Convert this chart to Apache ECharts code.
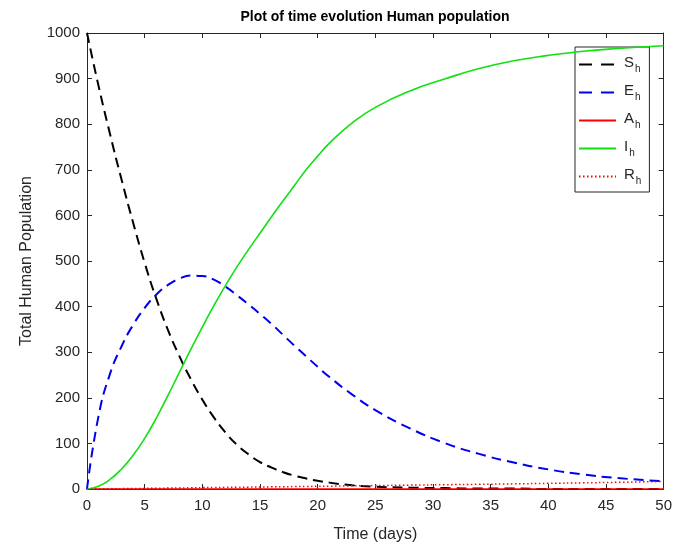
<!DOCTYPE html>
<html>
<head>
<meta charset="utf-8">
<script src="https://cdn.jsdelivr.net/npm/echarts@6/dist/echarts.min.js"></script>
<style>
  html, body { margin: 0; padding: 0; background: #fff; }
  #chart { width: 675px; height: 552px; }
</style>
</head>
<body>
<div id="chart"></div>
<script>
// time samples (days)
const days = [0, 1, 2, 3, 4, 5, 6, 7, 8, 9, 10, 11, 12, 13, 14, 15, 16, 17, 18, 19, 20, 21, 23, 25, 28, 31, 34, 37, 40, 43, 46, 50]

// compartments
const susceptible = [1000, 884, 778, 678, 584, 496, 418, 350, 292, 241, 196, 157, 124, 97, 76, 59, 47, 37, 29, 23, 18, 14, 8, 5, 3, 2, 1, 1, 0, 0, 0, 0]
const exposed = [0, 160, 253, 313, 360, 397, 426, 447, 461, 468, 467, 459, 444, 425, 405, 384, 362, 338, 314, 291, 268, 246, 207, 173, 133, 101, 77, 58, 43, 32, 24, 17]
const asymptomatic = [0, 0, 0, 0, 0, 0, 0, 0, 0, 0, 0, 0, 0, 0, 0, 0, 0, 0, 0, 0, 0, 0, 0, 0, 0, 0, 0, 0, 0, 0, 0, 0]
const infected = [0, 6, 21, 44, 74, 111, 155, 204, 255, 306, 355, 402, 446, 487, 525, 561, 597, 632, 666, 700, 730, 758, 803, 837, 873, 899, 922, 939, 951, 960, 966, 972]
const recovered = [0, 0.2, 0.5, 0.8, 1, 1.3, 1.7, 2, 2.3, 2.6, 3, 3.3, 3.6, 3.9, 4.1, 4.4, 4.7, 5, 5.3, 5.6, 5.9, 6.2, 6.9, 7.5, 8.5, 9.4, 10.3, 11.3, 12.4, 13.5, 14.7, 16.5]

const xTicks = { min: 0, max: 50, interval: 5 }
const yTicks = { min: 0, max: 1000, interval: 100 }

const axisColor = '#262626'
const font = 'Liberation Sans, Arial, sans-serif'

const pairs = (vals) => days.map((d, i) => [d, vals[i]])

const chart = echarts.init(document.getElementById('chart'), null, { renderer: 'canvas' })

const baseAxis = {
  type: 'value',
  axisLine: { show: true, onZero: false, lineStyle: { color: axisColor, width: 1 } },
  axisTick: { show: true, inside: true, length: 5, lineStyle: { color: axisColor } },
  splitLine: { show: false }
}

const mkLine = (name, vals, color, type, width, z) => ({
  name,
  type: 'line',
  data: pairs(vals),
  smooth: true,
  symbol: 'none',
  z,
  lineStyle: { color, type, width },
  itemStyle: { color }
})

// legend label with subscript h
const sub = (main) => '{m|' + main + '}{s|h}'

chart.setOption({
  animation: false,
  backgroundColor: '#fff',
  title: {
    text: 'Plot of time evolution Human population',
    left: 370,
    top: 5,
    textAlign: 'center',
    textStyle: { fontFamily: font, fontSize: 14, fontWeight: 'bold', color: '#000' }
  },
  grid: { left: 87, right: 10, top: 33, bottom: 63 },
  xAxis: [
    Object.assign({}, baseAxis, xTicks, {
      position: 'bottom',
      name: 'Time (days)',
      nameLocation: 'middle',
      nameGap: 38,
      nameTextStyle: { fontFamily: font, fontSize: 16, color: axisColor },
      axisLabel: { fontFamily: font, fontSize: 15, color: axisColor, margin: 9 }
    }),
    Object.assign({}, baseAxis, xTicks, { position: 'top', axisLabel: { show: false } })
  ],
  yAxis: [
    Object.assign({}, baseAxis, yTicks, {
      position: 'left',
      name: 'Total Human Population',
      nameLocation: 'middle',
      nameGap: 52,
      nameTextStyle: { fontFamily: font, fontSize: 16, color: axisColor },
      axisLabel: { fontFamily: font, fontSize: 15, color: axisColor, margin: 7, formatter: (v) => String(v) }
    }),
    Object.assign({}, baseAxis, yTicks, { position: 'right', axisLabel: { show: false } })
  ],
  legend: {
    orient: 'vertical',
    left: 575,
    top: 47,
    padding: [8, 8, 6, 3],
    itemWidth: 37,
    itemHeight: 12,
    itemGap: 9,
    backgroundColor: '#fff',
    borderColor: axisColor,
    borderWidth: 1,
    borderRadius: 0,
    itemStyle: { opacity: 0 },
    formatter: (name) => sub(name.charAt(0)),
    textStyle: {
      color: axisColor,
      padding: [0, 0, 0, 3],
      rich: {
        m: { fontFamily: font, fontSize: 15, color: axisColor, lineHeight: 19, verticalAlign: 'top' },
        s: { fontFamily: font, fontSize: 10, color: axisColor, lineHeight: 19, verticalAlign: 'bottom', padding: [0, 0, 0, 1] }
      }
    },
    data: [
      { name: 'S_h', lineStyle: { type: [13, 9] } },
      { name: 'E_h', lineStyle: { type: [13, 9] } },
      { name: 'A_h' },
      { name: 'I_h' },
      { name: 'R_h' }
    ]
  },
  series: [
    mkLine('S_h', susceptible, '#000000', [10, 6], 2, 2),
    mkLine('E_h', exposed, '#0000ee', [10, 6], 2, 3),
    mkLine('A_h', asymptomatic, '#ff0000', 'solid', 1.3, 4),
    mkLine('I_h', infected, '#11e011', 'solid', 1.6, 5),
    mkLine('R_h', recovered, '#ff0000', [1.5, 2.5], 1.5, 6)
  ]
})
</script>
</body>
</html>
